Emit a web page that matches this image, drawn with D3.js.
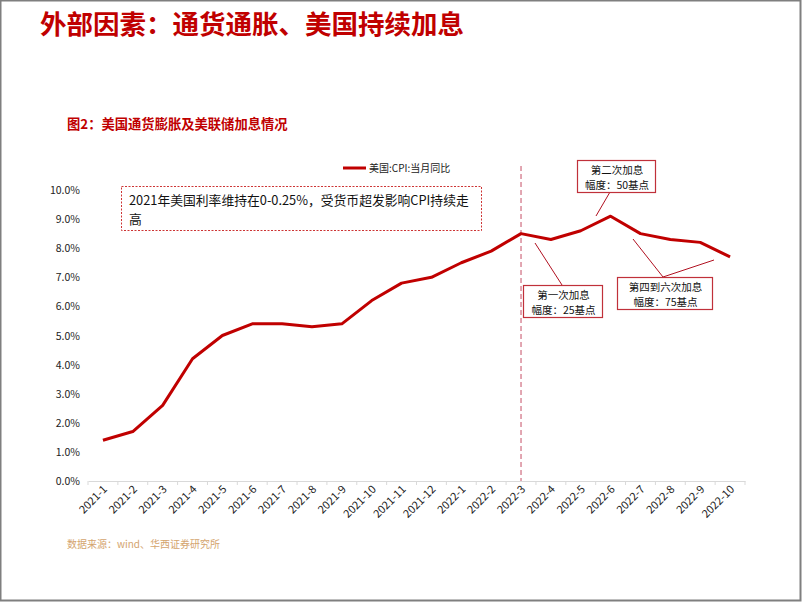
<!DOCTYPE html>
<html>
<head>
<meta charset="utf-8">
<script src="https://cdn.jsdelivr.net/npm/d3@7"></script>
<style>
body { margin: 0; background: #fff; }
</style>
</head>
<body>
<script>
// 美国CPI当月同比, 2021-1 .. 2022-10
var months = ["2021-1","2021-2","2021-3","2021-4","2021-5","2021-6","2021-7","2021-8","2021-9","2021-10","2021-11","2021-12",
              "2022-1","2022-2","2022-3","2022-4","2022-5","2022-6","2022-7","2022-8","2022-9","2022-10"];
var cpi = [1.4, 1.7, 2.6, 4.2, 5.0, 5.4, 5.4, 5.3, 5.4, 6.2, 6.8, 7.0,
           7.5, 7.9, 8.5, 8.3, 8.6, 9.1, 8.5, 8.3, 8.2, 7.7];
var yTicks = [0, 1, 2, 3, 4, 5, 6, 7, 8, 9, 10];

var W = 802, H = 602;
var red = "#c00000";
var font = "'Noto Sans CJK SC', 'DejaVu Sans', sans-serif";

var svg = d3.select("body").append("svg")
    .attr("width", W)
    .attr("height", H);

// frame
svg.append("rect")
    .attr("x", 0.5).attr("y", 0.5)
    .attr("width", W - 2).attr("height", H - 2)
    .attr("fill", "#fff")
    .attr("stroke", "#7f7f7f")
    .attr("stroke-width", 2);

// page title
svg.append("text").text("外部因素：通货通胀、美国持续加息")
    .attr("x", 40).attr("y", 34)
    .attr("fill", red)
    .attr("font-family", font)
    .attr("font-weight", "bold")
    .attr("font-size", 26.5);

// figure title
svg.append("text").text("图2：美国通货膨胀及美联储加息情况")
    .attr("x", 67).attr("y", 129)
    .attr("fill", red)
    .attr("font-family", font)
    .attr("font-weight", "bold")
    .attr("font-size", 13.3);

var x = d3.scaleBand()
    .domain(months)
    .range([88, 745]);

var y = d3.scaleLinear()
    .domain([0, 10])
    .range([481, 190]);

// y labels (no axis line)
svg.selectAll(".ylab")
    .data(yTicks)
    .enter().append("text")
    .attr("class", "ylab")
    .attr("x", 80)
    .attr("y", function(d) { return y(d) + 4; })
    .attr("text-anchor", "end")
    .attr("font-family", font)
    .attr("font-size", 10.5)
    .attr("fill", "#222")
    .text(function(d) { return d.toFixed(1) + "%"; });

// x axis
var xAxis = svg.append("g")
    .attr("transform", "translate(0,481)")
    .call(d3.axisBottom(x).tickSize(0).tickFormat(""));
xAxis.select(".domain").attr("stroke", "#d9d9d9");
xAxis.selectAll(".bnd")
    .data(months.concat(["end"]))
    .enter().append("line")
    .attr("class", "bnd")
    .attr("x1", function(d, i) { return x.range()[0] + i * x.step(); })
    .attr("x2", function(d, i) { return x.range()[0] + i * x.step(); })
    .attr("y1", 0).attr("y2", 4)
    .attr("stroke", "#d9d9d9");

svg.selectAll(".xlab")
    .data(months)
    .enter().append("text")
    .attr("class", "xlab")
    .attr("text-anchor", "end")
    .attr("font-family", font)
    .attr("font-size", 11)
    .attr("fill", "#222")
    .attr("transform", function(d) {
        return "translate(" + (x(d) + x.bandwidth() / 2 + 5) + ",490) rotate(-45)";
    })
    .text(function(d) { return d; });

// dashed marker at first hike (2022-3)
var hikeX = x("2022-3") + x.bandwidth() / 2;
svg.append("line")
    .attr("x1", hikeX).attr("x2", hikeX)
    .attr("y1", 166).attr("y2", 481)
    .attr("stroke", "#d98a99")
    .attr("stroke-width", 1.5)
    .attr("stroke-dasharray", "5,3");

// cpi line
var line = d3.line()
    .x(function(d, i) { return x(months[i]) + x.bandwidth() / 2; })
    .y(function(d) { return y(d); });

svg.append("path")
    .datum(cpi)
    .attr("d", line)
    .attr("fill", "none")
    .attr("stroke", red)
    .attr("stroke-width", 3)
    .attr("stroke-linejoin", "round");

// legend
svg.append("line")
    .attr("x1", 343).attr("x2", 366)
    .attr("y1", 168).attr("y2", 168)
    .attr("stroke", red).attr("stroke-width", 3);
svg.append("text").text("美国:CPI:当月同比")
    .attr("x", 369).attr("y", 172)
    .attr("font-family", font)
    .attr("font-size", 10)
    .attr("fill", "#222");

// dashed note box
svg.append("rect")
    .attr("x", 121.5).attr("y", 186.5)
    .attr("width", 360).attr("height", 44)
    .attr("fill", "#fff")
    .attr("stroke", red)
    .attr("stroke-width", 0.8)
    .attr("stroke-dasharray", "2,1.5");
svg.append("text").text("2021年美国利率维持在0-0.25%，受货币超发影响CPI持续走")
    .attr("x", 129).attr("y", 205)
    .attr("font-family", font)
    .attr("font-size", 12.8)
    .attr("fill", "#111");
svg.append("text").text("高")
    .attr("x", 129).attr("y", 224)
    .attr("font-family", font)
    .attr("font-size", 12.8)
    .attr("fill", "#111");

// hike call-outs
function callout(bx, by, bw, bh, lines, leaders) {
    leaders.forEach(function(l) {
        svg.append("line")
            .attr("x1", l[0]).attr("y1", l[1])
            .attr("x2", l[2]).attr("y2", l[3])
            .attr("stroke", "#b01020")
            .attr("stroke-width", 1);
    });
    svg.append("rect")
        .attr("x", bx + 0.5).attr("y", by + 0.5)
        .attr("width", bw).attr("height", bh)
        .attr("fill", "#fff")
        .attr("stroke", "#c0303a")
        .attr("stroke-width", 1.2);
    lines.forEach(function(t, i) {
        svg.append("text").text(t)
            .attr("x", bx + bw / 2 + 1)
            .attr("y", by + 13.5 + i * 15)
            .attr("text-anchor", "middle")
            .attr("font-family", font)
            .attr("font-size", 10.5)
            .attr("fill", "#111");
    });
}

callout(577, 160, 78, 32, ["第二次加息", "幅度：50基点"], [[596, 216, 610, 192]]);
callout(523, 285, 79, 32, ["第一次加息", "幅度：25基点"], [[535, 243, 562, 285]]);
callout(617, 277, 95, 32, ["第四到六次加息", "幅度：75基点"], [[633, 239, 663, 277], [663, 277, 714, 260]]);

// source
svg.append("text").text("数据来源：wind、华西证券研究所")
    .attr("x", 67).attr("y", 548)
    .attr("font-family", font)
    .attr("font-size", 10)
    .attr("fill", "#d4a46e");
</script>
</body>
</html>
